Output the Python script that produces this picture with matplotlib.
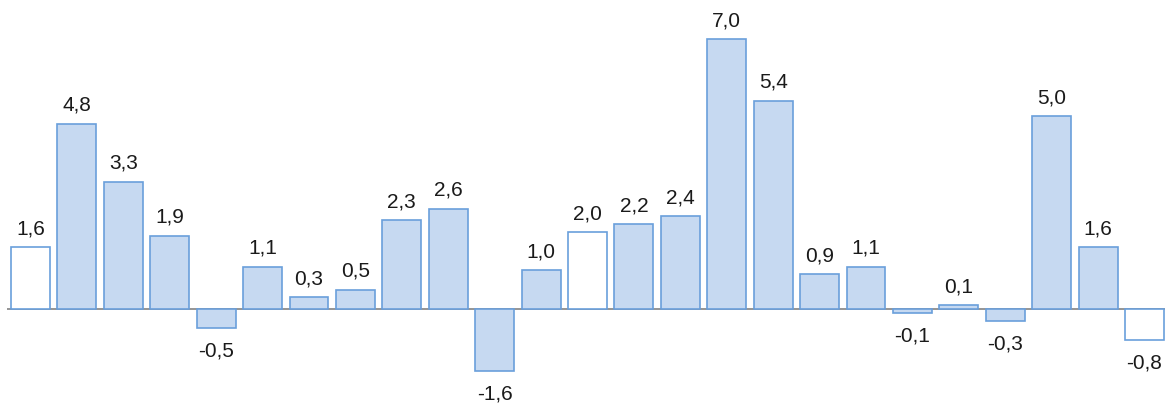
import matplotlib
matplotlib.use("Agg")
import matplotlib.pyplot as plt

values = [1.6, 4.8, 3.3, 1.9, -0.5, 1.1, 0.3, 0.5, 2.3, 2.6, -1.6, 1.0,
          2.0, 2.2, 2.4, 7.0, 5.4, 0.9, 1.1, -0.1, 0.1, -0.3, 5.0, 1.6, -0.8]
highlight = [0, 12, 24]  # white (unfilled) bars
labels = [f"{v:.1f}".replace(".", ",") for v in values]

plt.rcParams['font.family'] = ['Liberation Sans', 'DejaVu Sans']

fig = plt.figure(figsize=(11.65, 4.03), dpi=100)
ax = fig.add_axes([7.3 / 1165, 0, 1160.4 / 1165, 1])

fill = "#c6d9f1"
edge = "#6a9fdb"
x = list(range(len(values)))
colors = ["white" if i in highlight else fill for i in x]
ax.bar(x, values, width=0.84, color=colors, edgecolor=edge, linewidth=1.2, zorder=2)

ax.axhline(0, color="#8c8c8c", linewidth=1.3, zorder=1)

for xi, v, lab in zip(x, values, labels):
    if v >= 0:
        ax.annotate(lab, (xi, v), xytext=(0, 9.2), textcoords="offset points",
                    ha="center", va="baseline", fontsize=15, color="#1a1a1a")
    else:
        ax.annotate(lab, (xi, v), xytext=(0, -9.8), textcoords="offset points",
                    ha="center", va="top", fontsize=15, color="#1a1a1a")

ax.set_xlim(-0.5, 24.5)
ax.set_ylim(-94 / 38.6, 309 / 38.6)
ax.axis("off")

fig.savefig("out.png", dpi=100)
